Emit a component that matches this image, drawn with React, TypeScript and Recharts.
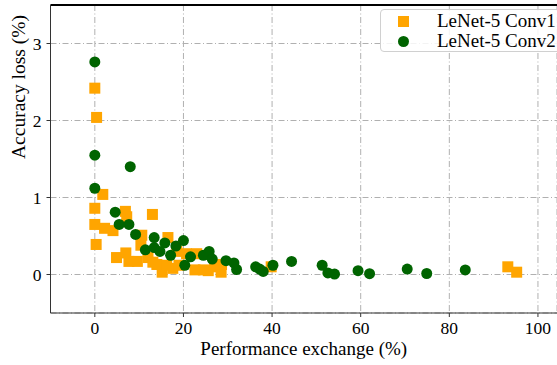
import React from "react";
import {
  ScatterChart,
  Scatter,
  XAxis,
  YAxis,
  CartesianGrid,
  ReferenceLine,
  Legend
} from "recharts";

const conv1X = [0, 0.4, 1.8, 0, 0, 0.3, 2.2, 4.1, 6.9, 7.2, 13.0, 10.6, 10.4, 16.5, 4.9, 7.0, 7.7, 9.6, 12.0, 13.1, 14.0, 15.2, 16.2, 17.6, 18.5, 19.0, 20.7, 23.0, 22.6, 24.5, 25.6, 27.0, 28.5, 28.6, 39.8, 93.2, 95.2];
const conv1Y = [2.42, 2.04, 1.04, 0.86, 0.65, 0.39, 0.6, 0.57, 0.82, 0.75, 0.78, 0.51, 0.38, 0.48, 0.22, 0.28, 0.17, 0.17, 0.22, 0.16, 0.13, 0.03, 0.12, 0.08, 0.3, 0.12, 0.27, 0.27, 0.06, 0.06, 0.05, 0.1, 0.03, 0.13, 0.1, 0.1, 0.03];

const conv2X = [0, 0, 0, 8.0, 4.6, 5.5, 7.7, 9.2, 13.4, 11.4, 13.4, 14.7, 15.8, 17.1, 18.3, 20.0, 20.3, 21.6, 24.5, 25.8, 26.5, 29.6, 31.4, 32.0, 36.3, 37.2, 38.0, 40.2, 44.4, 51.3, 52.6, 54.1, 59.4, 62.0, 70.5, 74.9, 83.6];
const conv2Y = [2.76, 1.55, 1.12, 1.4, 0.81, 0.65, 0.65, 0.52, 0.48, 0.32, 0.35, 0.3, 0.41, 0.25, 0.37, 0.44, 0.12, 0.23, 0.25, 0.3, 0.2, 0.18, 0.15, 0.065, 0.1, 0.07, 0.04, 0.12, 0.17, 0.12, 0.02, 0.005, 0.05, 0.01, 0.07, 0.013, 0.06];

const xTicks = [0, 20, 40, 60, 80, 100];
const yTicks = [0, 1, 2, 3];
const seriesNames = ["LeNet-5 Conv1", "LeNet-5 Conv2"];

const conv1 = conv1X.map((x, i) => ({ x, y: conv1Y[i] }));
const conv2 = conv2X.map((x, i) => ({ x, y: conv2Y[i] }));

const FONT = "'Liberation Serif', 'Times New Roman', serif";
const ORANGE = "#ffa500";
const GREEN = "#006400";

const Square = (props: any) => (
  <rect x={props.cx - 5.5} y={props.cy - 5.5} width={11} height={11} fill={ORANGE} />
);
const Dot = (props: any) => <circle cx={props.cx} cy={props.cy} r={5.5} fill={GREEN} />;

// tick text drawn by hand so the serif font sticks
const XTick = ({ x, y, payload }: any) => (
  <text x={x} y={y} dy={13} textAnchor="middle" fill="#000" fontFamily={FONT} fontSize={17.5}>
    {payload.value}
  </text>
);
const YTick = ({ x, y, payload }: any) => (
  <text x={x} y={y} dy={6} textAnchor="end" fill="#000" fontFamily={FONT} fontSize={17.5}>
    {payload.value}
  </text>
);

const LegendBox = () => (
  <div
    style={{
      width: 190,
      height: 43,
      border: "1px solid #d0d0d0",
      borderRadius: 4,
      background: "rgba(255,255,255,0.85)",
      fontFamily: FONT,
      fontSize: 19,
      color: "#000",
      boxSizing: "border-box",
      paddingTop: 1
    }}
  >
    {seriesNames.map((n, i) => (
      <div key={n} style={{ display: "flex", alignItems: "center", height: 20 }}>
        <svg width={56} height={20}>
          {i === 0 ? (
            <rect x={17} y={5} width={11} height={11} fill={ORANGE} />
          ) : (
            <circle cx={22.5} cy={10.5} r={5.5} fill={GREEN} />
          )}
        </svg>
        <span style={{ lineHeight: "20px" }}>{n}</span>
      </div>
    ))}
  </div>
);

export default function App() {
  return (
    <div style={{ position: "absolute", left: 0, top: 0, width: 557, height: 365, overflow: "hidden", background: "#fff", fontFamily: FONT }}>
      <ScatterChart width={557} height={365} margin={{ top: 5, right: 0, bottom: 0, left: 0 }}>
        <CartesianGrid stroke="#b0b0b0" strokeDasharray="6 2.5 1 2.5" />
        <XAxis
          type="number"
          dataKey="x"
          domain={[-10, 104.3]}
          ticks={xTicks}
          allowDataOverflow
          height={52}
          stroke="#333"
          tickSize={4}
          tickMargin={4}
          tick={<XTick />}
          label={{
            value: "Performance exchange (%)",
            position: "insideBottom",
            offset: 10,
            fill: "#000",
            fontFamily: FONT,
            fontSize: 19
          }}
        />
        <YAxis
          type="number"
          dataKey="y"
          domain={[-0.5, 3.5]}
          ticks={yTicks}
          allowDataOverflow
          width={50.5}
          stroke="#333"
          tickSize={4}
          tickMargin={5}
          tick={<YTick />}
          label={{
            value: "Accuracy loss (%)",
            angle: -90,
            position: "insideLeft",
            offset: 18,
            fill: "#000",
            fontFamily: FONT,
            fontSize: 19.5
          }}
        />
        <ReferenceLine y={3.5} stroke="#000" strokeWidth={2} />
        <Scatter name={seriesNames[0]} data={conv1} shape={Square} isAnimationActive={false} />
        <Scatter name={seriesNames[1]} data={conv2} shape={Dot} isAnimationActive={false} />
        <Legend
          layout="horizontal"
          verticalAlign="middle"
          align="center"
          content={() => <LegendBox />}
          wrapperStyle={{ top: 9, left: 380, width: 190 }}
        />
      </ScatterChart>
    </div>
  );
}
